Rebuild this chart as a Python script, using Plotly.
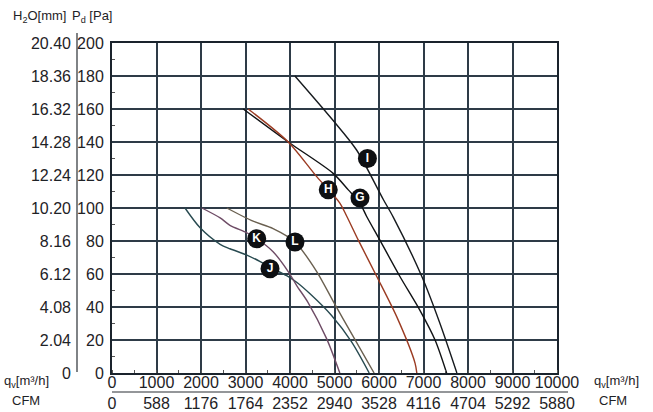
import plotly.graph_objects as go

# ---- data ----
qv_ticks = [0, 1000, 2000, 3000, 4000, 5000, 6000, 7000, 8000, 9000, 10000]
cfm_labels = ["0", "588", "1176", "1764", "2352", "2940", "3528", "4116", "4704", "5292", "5880"]
pa_ticks = [0, 20, 40, 60, 80, 100, 120, 140, 160, 180, 200]
h2o_labels = ["0", "2.04", "4.08", "6.12", "8.16", "10.20", "12.24", "14.28", "16.32", "18.36", "20.40"]

I_x = [4110, 4970, 5500, 6100, 6320, 6970, 7370, 7750]
I_y = [180, 153, 135, 105, 94.5, 58, 30, 0]

G_x = [2950, 3960, 4970, 5310, 5570, 5720, 6020, 6470, 6920, 7260, 7520]
G_y = [160, 140, 121, 111, 103, 95, 80.5, 58.5, 38, 20, 0]

H_x = [3060, 3960, 4600, 5120, 5275, 5535, 5950, 6400, 6810, 6850]
H_y = [160, 140, 119, 103, 95, 80.5, 58.5, 34, 6, 0]

J_x = [1640, 1980, 2430, 2650, 3030, 3330, 3550, 3925, 4150, 4450, 4930, 5380, 5780]
J_y = [100, 88, 78, 75.3, 71.5, 67.5, 64, 59, 55, 48, 35, 19, 0]

K_x = [2020, 2430, 2650, 3030, 3250, 3620, 3960, 4150, 4400, 4820, 5120]
K_y = [100, 94, 89.5, 85, 81.5, 73.5, 61.5, 53, 43, 21, 0]

L_x = [2580, 3170, 3620, 4110, 4600, 5000, 5380, 5890]
L_y = [100, 92, 87.5, 79.4, 61.5, 42, 24, 0]

label_text = ["I", "H", "G", "K", "L", "J"]
label_x = [5740, 4860, 5573, 3252, 4112, 3551]
label_y = [130, 111, 106, 81.4, 79.4, 63.2]

# ---- styling ----
FONT = "Liberation Sans, Arial, sans-serif"
TXT = "#1e2226"
GRID = "#2e3b47"

curves = [
    ("I", I_x, I_y, "#161a1e"),
    ("G", G_x, G_y, "#101214"),
    ("H", H_x, H_y, "#9b3b22"),
    ("J", J_x, J_y, "#284a50"),
    ("K", K_x, K_y, "#6e4c66"),
    ("L", L_x, L_y, "#6a6050"),
]

fig = go.Figure()
for name, xs, ys, col in curves:
    fig.add_trace(go.Scatter(x=xs, y=ys, mode="lines", name=name,
                             line=dict(color=col, width=1.4, shape="spline", smoothing=0.8),
                             hoverinfo="skip", showlegend=False))

fig.add_trace(go.Scatter(x=label_x, y=label_y, mode="markers+text", text=label_text,
                         textposition="middle center",
                         marker=dict(size=19, color="#0d0f12", line=dict(width=0)),
                         textfont=dict(color="white", size=12, family=FONT, weight="bold"),
                         hoverinfo="skip", showlegend=False))

# trace on the H2O axis (same pressure range) so the axis is drawn
fig.add_trace(go.Scatter(x=[0], y=[0], yaxis="y2", mode="markers",
                         marker=dict(opacity=0, size=1), hoverinfo="skip", showlegend=False))

W, H = 653, 412
L_M, R_M, T_M, B_M = 0, 96, 43, 39
pw = W - L_M - R_M
ph = H - T_M - B_M

def px(xp):
    return xp / pw

def py(yp):
    return (373 - yp) / ph

fig.update_layout(
    width=W, height=H,
    margin=dict(l=L_M, r=R_M, t=T_M, b=B_M, autoexpand=False),
    paper_bgcolor="white", plot_bgcolor="white",
    font=dict(family=FONT, color=TXT, size=16),
    xaxis=dict(domain=[112 / pw, 1], range=[0, 10000], automargin=False,
               tickvals=qv_ticks,
               ticktext=[f"{q}<br>{c}" for q, c in zip(qv_ticks, cfm_labels)],
               ticks="", showgrid=True, gridcolor=GRID, gridwidth=1.5,
               showline=True, linecolor="#1a232c", linewidth=2, mirror=True,
               zeroline=False, tickfont=dict(size=16, color=TXT),
               ticklabelstandoff=-6,
               minor=dict(ticks="inside", ticklen=3, tickcolor="#555", tickwidth=1,
                          showgrid=False, dtick=500, tick0=500)),
    yaxis=dict(range=[0, 200], tickvals=pa_ticks, ticks="", automargin=False,
               showgrid=True, gridcolor=GRID, gridwidth=1.5,
               showline=True, linecolor="#1a232c", linewidth=2, mirror=True,
               zeroline=False, tickfont=dict(size=16, color=TXT),
               ticklabelstandoff=3,
               minor=dict(ticks="inside", ticklen=3, tickcolor="#555", tickwidth=1,
                          showgrid=False, dtick=20, tick0=10)),
    yaxis2=dict(range=[0, 200], overlaying="y", anchor="free", position=77 / pw,
                side="left", tickvals=pa_ticks, ticktext=h2o_labels, ticks="",
                automargin=False,
                showgrid=False, showline=False, zeroline=False,
                tickfont=dict(size=16, color=TXT), ticklabelstandoff=6),
)

ann_font = dict(size=13, color=TXT, family=FONT)
anns = [
    ("H<sub>2</sub>O[mm]", 39, 17),
    ("P<sub>d</sub> [Pa]", 92, 17),
    ("q<sub>v</sub>[m³/h]", 27, 381),
    ("CFM", 26, 400),
    ("q<sub>v</sub>[m³/h]", 616, 381),
    ("CFM", 613, 400),
]
for t, x0, y0 in anns:
    fig.add_annotation(text=t, x=px(x0), y=py(y0), xref="paper", yref="paper",
                       xanchor="center", yanchor="middle", showarrow=False, font=ann_font)

# vertical separator between H2O and Pa columns
fig.add_shape(type="line", xref="paper", yref="paper",
              x0=px(77), x1=px(77), y0=py(372), y1=py(33),
              line=dict(color="#2a2f35", width=1.2))
# horizontal separator between m3/h and CFM rows
fig.add_shape(type="line", xref="paper", yref="paper",
              x0=px(112), x1=px(568), y0=py(392), y1=py(392),
              line=dict(color="#2a2f35", width=1.2))

fig.write_html("out.html", post_script="document.body.style.margin='0';",
               config={"displayModeBar": False})
